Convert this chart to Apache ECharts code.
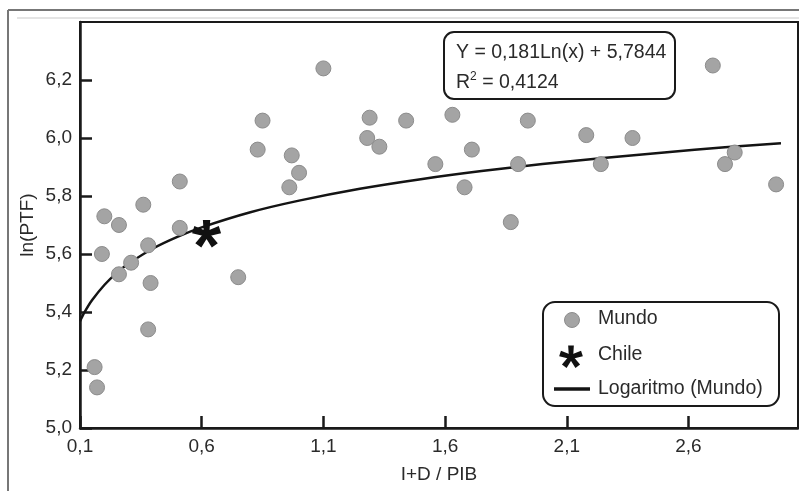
<!DOCTYPE html>
<html>
<head>
<meta charset="utf-8">
<script src="https://cdn.jsdelivr.net/npm/echarts@6/dist/echarts.min.js"></script>
<style>
html,body{margin:0;padding:0;background:#fff;}
#chart{width:799px;height:491px;}
</style>
</head>
<body>
<div id="chart"></div>
<script>
// ---- data ----
var mundoX = [1.10,0.85,0.83,0.97,1.00,0.96,0.51,0.36,0.20,0.26,0.51,0.38,0.19,0.31,0.26,0.39,0.75,0.38,0.16,0.17,
              1.29,1.28,1.33,1.44,1.63,1.71,1.56,1.68,1.90,1.94,1.87,2.18,2.37,2.24,2.70,2.79,2.75,2.96];
var mundoY = [6.24,6.06,5.96,5.94,5.88,5.83,5.85,5.77,5.73,5.70,5.69,5.63,5.60,5.57,5.53,5.50,5.52,5.34,5.21,5.14,
              6.07,6.00,5.97,6.06,6.08,5.96,5.91,5.83,5.91,6.06,5.71,6.01,6.00,5.91,6.25,5.95,5.91,5.84];
var chileX = [0.62];
var chileY = [5.67];
// trend curve (Y = 0,181Ln(x) + 5,7844)
var trendX = [0.10,0.12,0.15,0.20,0.25,0.30,0.40,0.50,0.60,0.80,1.00,1.25,1.50,1.75,2.00,2.25,2.50,2.75,2.98];
var trendY = [5.368,5.401,5.441,5.493,5.534,5.567,5.619,5.659,5.692,5.744,5.784,5.825,5.858,5.886,5.910,5.931,5.950,5.968,5.982];
var seriesNames = ['Mundo','Chile','Logaritmo (Mundo)'];
var equationLines = ['Y = 0,181Ln(x) + 5,7844', '0,4124'];
var xAxisName = 'I+D / PIB';
var yAxisName = 'ln(PTF)';

var FONT = '"Liberation Sans", Arial, sans-serif';
var TXT = '#2a2a2a';
var PT = '#a4a4a4';
var ANGS = [-90, -18, 54, 126, 198];

function armPoints(cx, cy, L, w, a) {
  var r = a * Math.PI / 180;
  var dx = Math.cos(r), dy = Math.sin(r), px = -dy, py = dx;
  return [
    [cx + px * w * 0.4, cy + py * w * 0.4],
    [cx + px * w * 0.55 + dx * L, cy + py * w * 0.55 + dy * L],
    [cx - px * w * 0.55 + dx * L, cy - py * w * 0.55 + dy * L],
    [cx - px * w * 0.4, cy - py * w * 0.4]
  ];
}
function asteriskPath() {
  var s = '';
  ANGS.forEach(function (a) {
    var pts = armPoints(50, 50, 46, 22, a);
    s += 'M' + pts.map(function (p) { return p[0].toFixed(2) + ',' + p[1].toFixed(2); }).join('L') + 'Z';
  });
  return s;
}
var AST = asteriskPath();

function zip(a, b) { return a.map(function (v, i) { return [v, b[i]]; }); }
function fmt(v) { return v.toFixed(1).replace('.', ','); }

var legendAst = ANGS.map(function (a) {
  return {type: 'polygon', shape: {points: armPoints(571, 357, 11.5, 5.2, a)}, style: {fill: '#111'}, z: 101};
});

var graphics = [
  // outer frame of the figure
  {type: 'line', shape: {x1: 8, y1: 10, x2: 8, y2: 491}, style: {stroke: '#777', lineWidth: 2}, z: 100},
  {type: 'line', shape: {x1: 8, y1: 10, x2: 799, y2: 10}, style: {stroke: '#777', lineWidth: 2}, z: 100},
  {type: 'line', shape: {x1: 17, y1: 18, x2: 799, y2: 18}, style: {stroke: '#e4e4e4', lineWidth: 2}, z: 100},
  // equation box
  {type: 'rect', shape: {x: 444, y: 32, width: 231, height: 67, r: 10}, style: {fill: '#fff', stroke: '#1a1a1a', lineWidth: 2}, z: 100},
  {type: 'text', x: 456, y: 53, z: 101, style: {text: equationLines[0], font: '19.5px ' + FONT, fill: TXT, verticalAlign: 'middle'}},
  {type: 'text', x: 456, y: 82, z: 101, style: {
    text: '{a|R}{s|2}{a| = ' + equationLines[1] + '}', verticalAlign: 'middle', fill: TXT,
    rich: {a: {fontFamily: FONT, fontSize: 19.5, color: TXT, lineHeight: 22, verticalAlign: 'bottom'},
           s: {fontFamily: FONT, fontSize: 12, color: TXT, lineHeight: 22, verticalAlign: 'top'}}
  }},
  // legend box
  {type: 'rect', shape: {x: 543, y: 302, width: 236, height: 104, r: 12}, style: {fill: '#fff', stroke: '#1a1a1a', lineWidth: 2}, z: 100},
  {type: 'circle', shape: {cx: 572, cy: 320, r: 7.5}, style: {fill: PT, stroke: '#8c8c8c', lineWidth: 1}, z: 101},
  {type: 'text', x: 598, y: 319, z: 101, style: {text: seriesNames[0], font: '19.5px ' + FONT, fill: TXT, verticalAlign: 'middle'}},
  {type: 'text', x: 598, y: 355, z: 101, style: {text: seriesNames[1], font: '19.5px ' + FONT, fill: TXT, verticalAlign: 'middle'}},
  {type: 'line', shape: {x1: 554, y1: 389, x2: 590, y2: 389}, style: {stroke: '#141414', lineWidth: 3.5}, z: 101},
  {type: 'text', x: 598, y: 389, z: 101, style: {text: seriesNames[2], font: '19.5px ' + FONT, fill: TXT, verticalAlign: 'middle'}}
].concat(legendAst);

var chart = echarts.init(document.getElementById('chart'), null, {renderer: 'canvas'});
chart.setOption({
  backgroundColor: '#fff',
  animation: false,
  grid: {left: 80, right: 1, top: 22, bottom: 63, show: true, borderColor: '#1a1a1a', borderWidth: 2, backgroundColor: '#fff'},
  xAxis: {
    type: 'value', min: 0.1, max: 3.05, interval: 0.5,
    name: xAxisName, nameLocation: 'middle', nameGap: 37, nameMoveOverlap: false,
    nameTextStyle: {fontFamily: FONT, fontSize: 19, color: TXT},
    axisLine: {onZero: false, lineStyle: {color: '#1a1a1a', width: 2.5}},
    axisTick: {inside: true, length: 12, lineStyle: {color: '#1a1a1a', width: 2.5}},
    axisLabel: {formatter: fmt, showMaxLabel: false, margin: 9, fontFamily: FONT, fontSize: 19, color: TXT},
    splitLine: {show: false}
  },
  yAxis: {
    type: 'value', min: 5.0, max: 6.4, interval: 0.2,
    name: yAxisName, nameLocation: 'middle', nameGap: 43, nameMoveOverlap: false,
    nameTextStyle: {fontFamily: FONT, fontSize: 19, color: TXT},
    axisLine: {onZero: false, lineStyle: {color: '#1a1a1a', width: 2.5}},
    axisTick: {inside: true, length: 12, lineStyle: {color: '#1a1a1a', width: 2.5}},
    axisLabel: {formatter: fmt, showMaxLabel: false, margin: 8, fontFamily: FONT, fontSize: 19, color: TXT},
    splitLine: {show: false}
  },
  series: [
    {
      name: seriesNames[2], type: 'line', data: zip(trendX, trendY), smooth: 0.3,
      showSymbol: false, symbol: 'none', z: 2,
      lineStyle: {color: '#141414', width: 2.5}
    },
    {
      name: seriesNames[0], type: 'scatter', data: zip(mundoX, mundoY), z: 3,
      symbol: 'circle', symbolSize: 15,
      itemStyle: {color: PT, borderColor: '#8c8c8c', borderWidth: 1, opacity: 1}
    },
    {
      name: seriesNames[1], type: 'scatter', data: zip(chileX, chileY), z: 4,
      symbol: 'path://' + AST, symbolSize: 29, symbolKeepAspect: true,
      itemStyle: {color: '#111', opacity: 1}
    }
  ],
  graphic: graphics
});
</script>
</body>
</html>
